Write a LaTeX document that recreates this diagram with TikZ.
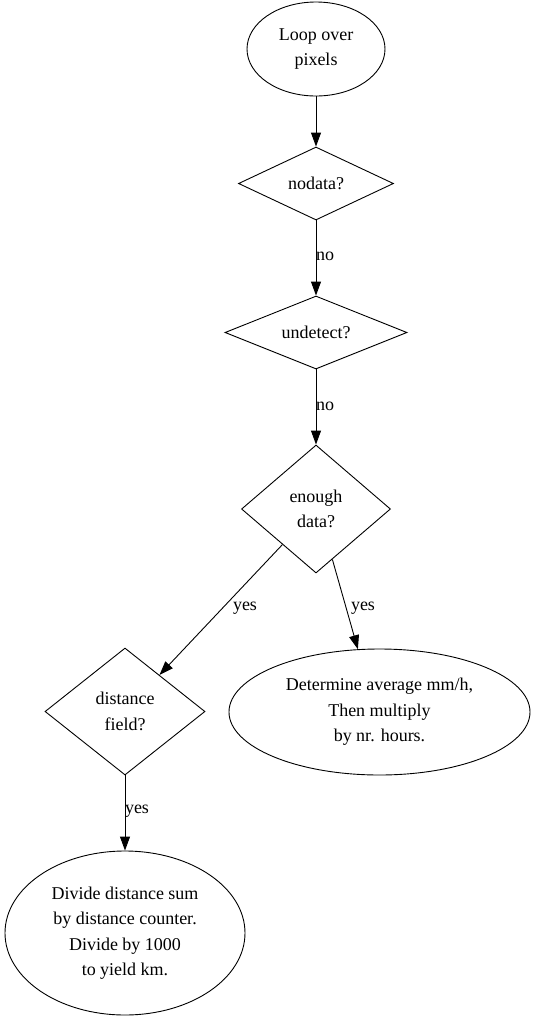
\documentclass[tikz,border=0pt]{standalone}
\usepackage{fontspec}
\setmainfont{Liberation Serif}
\usetikzlibrary{shapes.geometric,arrows.meta}
\begin{document}
\begin{tikzpicture}[x=1pt,y=-1pt,
  every node/.style={font=\fontsize{18}{25.5}\selectfont, align=center},
  ell/.style={draw, ellipse, inner sep=0pt, line width=0.9pt},
  dia/.style={draw, diamond, inner sep=0pt, line width=0.9pt},
  lbl/.style={inner sep=0pt},
  edge/.style={line width=0.9pt, -{Triangle[length=14pt,width=10pt]}}]
\useasboundingbox (0,0) rectangle (536,1021);
\node[ell, minimum width=138pt, minimum height=94pt] (loop) at (316,49) {Loop over\\pixels};
\node[dia, shape aspect=2.12, minimum width=155pt, minimum height=73pt] (nodata) at (316,183.5) {nodata?};
\node[dia, shape aspect=2.5, minimum width=182pt, minimum height=73pt] (undet) at (316,332.5) {undetect?};
\node[dia, shape aspect=1.16, minimum width=149pt, minimum height=128pt] (enough) at (316,509) {enough\\data?};
\node[dia, shape aspect=1.26, minimum width=160pt, minimum height=127pt] (dist) at (125,711.5) {distance\\field?};
\node[ell, minimum width=301pt, minimum height=126pt] (det) at (379.5,712) {Determine average mm/h,\\Then multiply\\by nr. hours.};
\node[ell, minimum width=240pt, minimum height=164pt] (div) at (125,933) {Divide distance sum\\by distance counter.\\Divide by 1000\\to yield km.};
\draw[edge] (loop) -- (nodata);
\draw[edge] (nodata) -- (undet);
\draw[edge] (undet) -- (enough);
\draw[edge] (enough) -- (dist);
\draw[edge] (enough.-72) -- (det.109);
\draw[edge] (dist) -- (div);
\node[lbl] (l1) at (325,256) {no};
\node[lbl] (l2) at (325,406) {no};
\node[lbl] (l3) at (245,608) {yes};
\node[lbl] (l4) at (363,608) {yes};
\node[lbl] (l5) at (137,811) {yes};
\end{tikzpicture}
\end{document}
